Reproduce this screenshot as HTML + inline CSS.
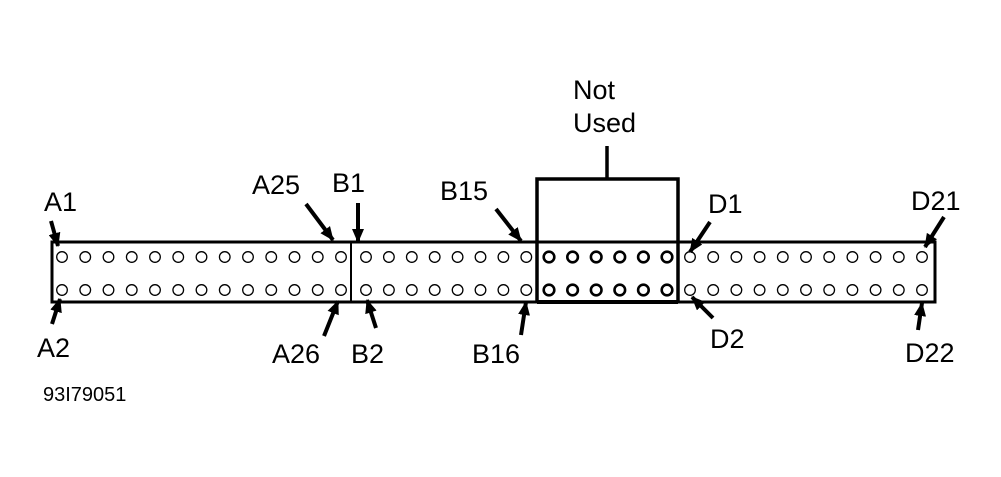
<!DOCTYPE html>
<html><head><style>body{margin:0;background:#fff}svg{display:block}text{font-family:"Liberation Sans",sans-serif;font-size:27px;fill:#000}</style></head>
<body>
<svg width="1001" height="477" viewBox="0 0 1001 477" xmlns="http://www.w3.org/2000/svg">
<defs>
<marker id="ah" markerUnits="userSpaceOnUse" markerWidth="14" markerHeight="12" refX="13" refY="6" orient="auto"><path d="M0,0 L14,6 L0,12 z" fill="#000"/></marker>
<g id="p" fill="none" stroke="#000" stroke-width="1.3"><circle cx="0" cy="257" r="5.3"/><circle cx="0" cy="290" r="5.3"/></g>
<g id="q" fill="none" stroke="#000" stroke-width="2.6"><circle cx="0" cy="257" r="5.3"/><circle cx="0" cy="290" r="5.3"/></g>
</defs>
<g stroke="#000" fill="none">
<path d="M52,242 H935 V302 H52 Z" stroke-width="3"/>
<line x1="351" y1="242" x2="351" y2="302" stroke-width="2"/>
<path d="M537,242 V179 H678 V302 M537,242 V302" stroke-width="3.5"/>
<line x1="607" y1="146" x2="607" y2="179" stroke-width="3.5"/>
<line x1="537" y1="302" x2="678" y2="302" stroke-width="4"/>
</g>
<use href="#p" x="62"/><use href="#p" x="85.25"/><use href="#p" x="108.5"/><use href="#p" x="131.75"/><use href="#p" x="155"/><use href="#p" x="178.25"/><use href="#p" x="201.5"/><use href="#p" x="224.75"/><use href="#p" x="248"/><use href="#p" x="271.25"/><use href="#p" x="294.5"/><use href="#p" x="317.75"/><use href="#p" x="341"/>
<use href="#p" x="366"/><use href="#p" x="388.9"/><use href="#p" x="411.8"/><use href="#p" x="434.7"/><use href="#p" x="457.6"/><use href="#p" x="480.5"/><use href="#p" x="503.4"/><use href="#p" x="526.3"/>
<use href="#q" x="549"/><use href="#q" x="572.6"/><use href="#q" x="596.2"/><use href="#q" x="619.8"/><use href="#q" x="643.4"/><use href="#q" x="667"/>
<use href="#p" x="690"/><use href="#p" x="713.2"/><use href="#p" x="736.4"/><use href="#p" x="759.6"/><use href="#p" x="782.8"/><use href="#p" x="806"/><use href="#p" x="829.2"/><use href="#p" x="852.4"/><use href="#p" x="875.6"/><use href="#p" x="898.8"/><use href="#p" x="922"/>
<g stroke="#000" stroke-width="4" marker-end="url(#ah)">
<line x1="51" y1="221" x2="58" y2="246"/>
<line x1="52" y1="324" x2="60" y2="299"/>
<line x1="306" y1="204" x2="333" y2="240"/>
<line x1="358" y1="203" x2="358" y2="242"/>
<line x1="324" y1="336" x2="338" y2="301"/>
<line x1="376" y1="328" x2="367" y2="300"/>
<line x1="496" y1="209" x2="521" y2="241"/>
<line x1="521" y1="335" x2="526" y2="302"/>
<line x1="710" y1="222" x2="690" y2="252"/>
<line x1="713" y1="318" x2="692" y2="297"/>
<line x1="944" y1="217" x2="925" y2="247"/>
<line x1="918" y1="330" x2="922" y2="303"/>
</g>
<text x="44" y="211">A1</text>
<text x="37" y="357">A2</text>
<text x="252" y="194">A25</text>
<text x="332" y="192">B1</text>
<text x="272" y="363">A26</text>
<text x="351" y="363">B2</text>
<text x="440" y="200">B15</text>
<text x="472" y="363">B16</text>
<text x="573" y="99">Not</text>
<text x="573" y="132">Used</text>
<text x="708" y="213">D1</text>
<text x="710" y="348">D2</text>
<text x="911" y="210">D21</text>
<text x="905" y="362">D22</text>
<text x="43" y="401" style="font-size:20px">93I79051</text>
</svg>
</body></html>
